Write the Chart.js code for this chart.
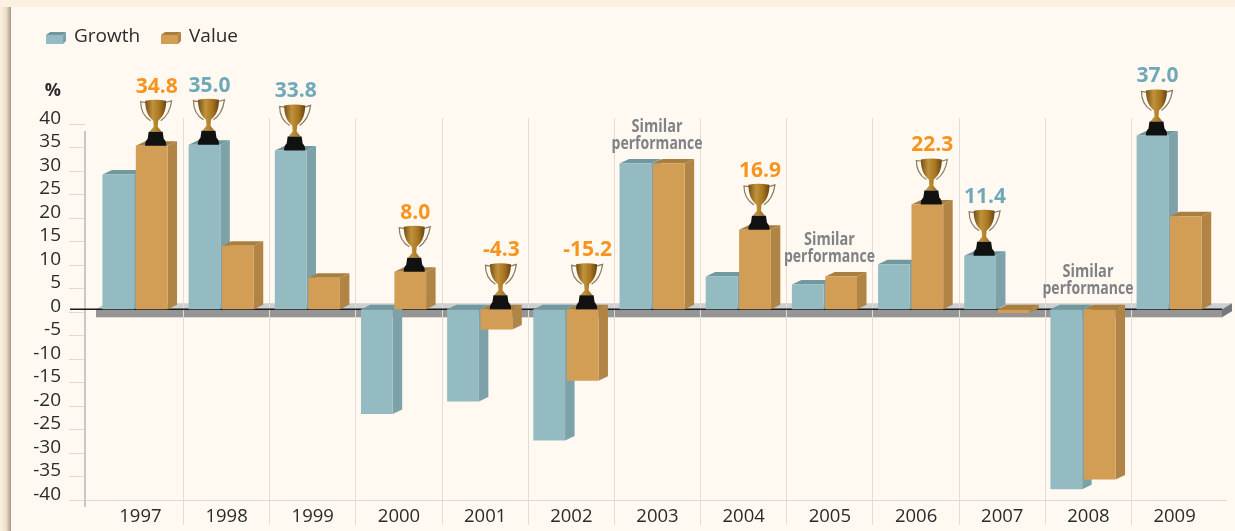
<!DOCTYPE html>
<html>
<head>
<meta charset="utf-8">
<style>
  body { margin: 0; background: #fff9f1; }
  canvas { display: block; }
</style>
<script src="https://cdn.jsdelivr.net/npm/chart.js@4"></script>
</head>
<body>
<canvas id="chartGrowthValue" width="1235" height="531"></canvas>
<script>
const years = [1997,1998,1999,2000,2001,2002,2003,2004,2005,2006,2007,2008,2009];
const growth = [28.7,35.0,33.8,-22.3,-19.6,-27.9,31.0,7.0,5.3,9.6,11.4,-38.3,37.0];
const value = [34.8,13.5,6.7,8.0,-4.3,-15.2,31.0,16.9,7.0,22.3,-0.8,-36.2,19.8];
// which series won each year, null = similar performance
const winners = ['Value','Growth','Growth','Value','Value','Value',null,'Value',null,'Value','Growth',null,'Growth'];
const yTicks = [-40,-35,-30,-25,-20,-15,-10,-5,0,5,10,15,20,25,30,35,40];

const colors = {
  Growth: { front:'#95bbc2', side:'#7da1a8', top:'#6f999e', text:'#6fa9b8' },
  Value: { front:'#d29e55', side:'#b08445', top:'#a97f40', text:'#f7941e' }
};
const DEPTH_X = 9.5, DEPTH_Y = 4.5;
const font = '"Open Sans", sans-serif';

function poly(ctx, pts, fill) {
  ctx.fillStyle = fill;
  ctx.beginPath();
  pts.forEach((p, i) => i ? ctx.lineTo(p[0], p[1]) : ctx.moveTo(p[0], p[1]));
  ctx.closePath();
  ctx.fill();
}

function drawTrophy(ctx, cx, by) {
  const gold = ctx.createLinearGradient(cx - 10, 0, cx + 10, 0);
  gold.addColorStop(0, '#7a5518');
  gold.addColorStop(.35, '#c0923c');
  gold.addColorStop(.7, '#a8741f');
  gold.addColorStop(1, '#6a4815');
  // handles
  ctx.strokeStyle = '#8a7a5c';
  ctx.lineWidth = 1.2;
  ctx.beginPath();
  ctx.moveTo(cx - 9, by - 43);
  ctx.lineTo(cx - 15, by - 44);
  ctx.quadraticCurveTo(cx - 15, by - 31, cx - 5, by - 25);
  ctx.moveTo(cx + 9, by - 43);
  ctx.lineTo(cx + 16, by - 45);
  ctx.quadraticCurveTo(cx + 14, by - 31, cx + 5, by - 25);
  ctx.stroke();
  // cup
  ctx.fillStyle = gold;
  ctx.beginPath();
  ctx.moveTo(cx - 10.5, by - 45);
  ctx.quadraticCurveTo(cx, by - 47, cx + 10.5, by - 45);
  ctx.bezierCurveTo(cx + 10.5, by - 33, cx + 6, by - 28, cx + 2.5, by - 25);
  ctx.lineTo(cx + 2, by - 19);
  ctx.lineTo(cx + 6, by - 14);
  ctx.lineTo(cx - 6, by - 14);
  ctx.lineTo(cx - 2, by - 19);
  ctx.lineTo(cx - 2.5, by - 25);
  ctx.bezierCurveTo(cx - 6, by - 28, cx - 10.5, by - 33, cx - 10.5, by - 45);
  ctx.fill();
  // black foot
  ctx.fillStyle = '#111';
  ctx.beginPath();
  ctx.moveTo(cx - 7, by - 14);
  ctx.lineTo(cx + 7, by - 14);
  ctx.lineTo(cx + 8, by - 7);
  ctx.quadraticCurveTo(cx + 11, by - 4, cx + 10.5, by);
  ctx.lineTo(cx - 10.5, by);
  ctx.quadraticCurveTo(cx - 11, by - 4, cx - 8, by - 7);
  ctx.closePath();
  ctx.fill();
}

const paperPlugin = {
  id: 'paper',
  beforeDraw(chart) {
    const { ctx, width, height } = chart;
    ctx.save();
    ctx.fillStyle = '#fdf0e0';
    ctx.fillRect(0, 0, width, height);
    const edge = ctx.createLinearGradient(0, 0, 11, 0);
    edge.addColorStop(0, '#fdf0e0');
    edge.addColorStop(.55, '#efe0c8');
    edge.addColorStop(1, '#a89a88');
    ctx.fillStyle = edge;
    ctx.fillRect(0, 7, 11, height - 7);
    ctx.fillStyle = '#fff9f1';
    ctx.fillRect(11, 7, width - 11, height - 7);
    // floor the bars stand on
    const y0 = chart.scales.yBars.getPixelForValue(0);
    poly(ctx, [[96, y0], [105, y0 - 6], [1232, y0 - 6], [1222, y0]], '#cdcfd0');
    ctx.fillStyle = '#959595';
    ctx.fillRect(96, y0, 1126, 8);
    poly(ctx, [[1222, y0], [1232, y0 - 6], [1232, y0 + 2], [1222, y0 + 8]], '#75787a');
    ctx.restore();
  },
  beforeDatasetsDraw(chart) {
    const { ctx } = chart;
    const y0 = chart.scales.yBars.getPixelForValue(0);
    ctx.save();
    ctx.strokeStyle = '#c8c8c8';
    ctx.lineWidth = 2;
    ctx.beginPath();
    ctx.moveTo(85, 131);
    ctx.lineTo(85, 507);
    ctx.stroke();
    ctx.strokeStyle = '#1a1a1a';
    ctx.lineWidth = 1.5;
    ctx.beginPath();
    ctx.moveTo(70, y0);
    ctx.lineTo(1222, y0);
    ctx.stroke();
    ctx.restore();
  }
};

function drawFaces(chart, meta, name) {
  const { ctx } = chart;
  const c = colors[name];
  ctx.save();
  meta.data.forEach(bar => {
    const l = bar.x - bar.width / 2, r = bar.x + bar.width / 2;
    const t = Math.min(bar.y, bar.base), b = Math.max(bar.y, bar.base);
    poly(ctx, [[r, t], [r + DEPTH_X, t - DEPTH_Y], [r + DEPTH_X, b - DEPTH_Y], [r, b]], c.side);
    poly(ctx, [[l, t], [r, t], [r + DEPTH_X, t - DEPTH_Y], [l + DEPTH_X, t - DEPTH_Y]], c.top);
  });
  ctx.restore();
}

// Value sits in front of Growth's side face, so it is painted after Growth
const bar3dPlugin = {
  id: 'bar3d',
  beforeDatasetDraw(chart, args) {
    if (args.index === 1) return false;
    drawFaces(chart, args.meta, 'Growth');
  },
  afterDatasetDraw(chart, args) {
    if (args.index !== 0) return;
    const meta = chart.getDatasetMeta(1);
    drawFaces(chart, meta, 'Value');
    meta.data.forEach(bar => bar.draw(chart.ctx));
  }
};

const notesPlugin = {
  id: 'notes',
  afterDatasetsDraw(chart) {
    const { ctx } = chart;
    const [g, v] = [0, 1].map(i => chart.getDatasetMeta(i).data);
    ctx.save();
    ctx.textAlign = 'center';
    ctx.textBaseline = 'middle';
    years.forEach((yr, i) => {
      const y0 = chart.scales.yBars.getPixelForValue(0);
      const w = winners[i];
      if (!w) {
        const cx = (g[i].x + v[i].x) / 2 + 5;
        const top = Math.min(g[i].y, v[i].y, y0);
        ctx.fillStyle = '#808285';
        ctx.font = 'bold 18px ' + font;
        ctx.fillText('Similar', cx, top - 37, 51);
        ctx.fillText('performance', cx, top - 20, 91);
        return;
      }
      const bar = w === 'Growth' ? g[i] : v[i];
      const cx = bar.x + 4;
      const top = Math.min(bar.y, y0);
      drawTrophy(ctx, cx, top);
      ctx.fillStyle = colors[w].text;
      ctx.font = 'bold 21px ' + font;
      ctx.fillText((w === 'Growth' ? growth : value)[i].toFixed(1), cx + 1, top - 59);
    });
    // % label
    ctx.fillStyle = '#2b2b2b';
    ctx.font = 'bold 18px ' + font;
    ctx.textAlign = 'right';
    ctx.fillText('%', 61, 91);
    // legend
    [['Growth', 46, 74], ['Value', 161, 189]].forEach(([name, sx, tx]) => {
      const c = colors[name];
      ctx.fillStyle = c.front;
      ctx.fillRect(sx, 35, 17, 9);
      poly(ctx, [[sx, 35], [sx + 17, 35], [sx + 20, 32], [sx + 4, 32]], c.top);
      poly(ctx, [[sx + 17, 35], [sx + 20, 32], [sx + 20, 41], [sx + 17, 44]], c.side);
      ctx.fillStyle = '#2b2b2b';
      ctx.font = '19px ' + font;
      ctx.textAlign = 'left';
      ctx.fillText(name, tx, 37);
    });
    ctx.restore();
  }
};

const toPoints = arr => arr.map((v, i) => ({ x: years[i], y: v }));

new Chart(document.getElementById('chartGrowthValue'), {
  type: 'bar',
  data: {
    datasets: [
      { label: 'Growth', data: toPoints(growth), backgroundColor: colors.Growth.front, xAxisID: 'xBars', yAxisID: 'yBars', barPercentage: .95, categoryPercentage: .775 },
      { label: 'Value', data: toPoints(value), backgroundColor: colors.Value.front, xAxisID: 'xBars', yAxisID: 'yBars', barPercentage: .95, categoryPercentage: .775 }
    ]
  },
  plugins: [paperPlugin, bar3dPlugin, notesPlugin],
  options: {
    responsive: false,
    animation: false,
    layout: { padding: { top: 118, right: 8, left: 0, bottom: 0 } },
    plugins: { legend: { display: false }, tooltip: { enabled: false } },
    scales: {
      x: {
        type: 'linear',
        position: 'bottom',
        offset: false,
        min: 1996.357,
        max: 2009.608,
        afterBuildTicks: s => { s.ticks = years.map(y => ({ value: y })); },
        afterFit: s => { s.height = 31; s.paddingLeft = 0; s.paddingRight = 0; },
        border: { display: false },
        grid: {
          offset: true,
          tickLength: 25,
          color: c => (c.index > 0 ? '#e0ddd9' : 'transparent'),
          tickColor: c => (c.index > 0 ? '#e0ddd9' : 'transparent')
        },
        ticks: {
          autoSkip: false,
          maxRotation: 0,
          padding: -19,
          color: '#2b2b2b',
          font: { family: '"Open Sans"', size: 18.5 },
          callback: v => String(v)
        }
      },
      y: {
        type: 'linear',
        min: -40,
        max: 41.28,
        afterBuildTicks: s => { s.ticks = yTicks.map(v => ({ value: v })); },
        afterFit: s => { s.width = 85; },
        border: { display: false },
        grid: {
          tickLength: 16,
          tickColor: '#dcdad6',
          color: c => (c.tick && c.tick.value === -40 ? '#dcdad6' : 'transparent')
        },
        ticks: {
          autoSkip: false,
          padding: 8,
          labelOffset: -5.5,
          color: '#2b2b2b',
          font: { family: '"Open Sans"', size: 19 }
        }
      },
      xBars: { type: 'linear', display: false, offset: false, min: 1996.42, max: 2009.671 },
      yBars: { type: 'linear', display: false, min: -40.57, max: 40.7 }
    }
  }
});
</script>
</body>
</html>
